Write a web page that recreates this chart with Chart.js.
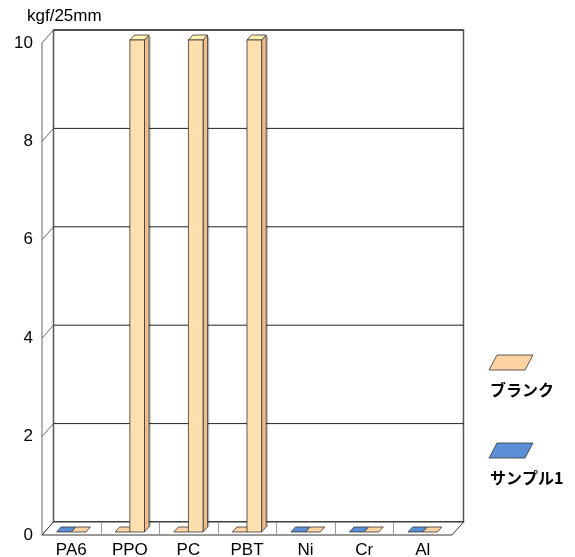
<!DOCTYPE html>
<html>
<head>
<meta charset="utf-8">
<script src="https://cdn.jsdelivr.net/npm/chart.js@4"></script>
<style>
  html, body { margin: 0; padding: 0; background: #fff; }
  #wrap { width: 575px; height: 557px; }
</style>
</head>
<body>
<div id="wrap"><canvas id="myChart" width="575" height="557"></canvas></div>
<script>
var categories = ["PA6", "PPO", "PC", "PBT", "Ni", "Cr", "Al"];
var sampleValues = [0, 0, 0, 0, 0, 0, 0];
var blankValues = [0, 10, 10, 10, 0, 0, 0];
var yTicks = [0, 2, 4, 6, 8, 10];
var unitLabel = "kgf/25mm";
var sampleLabel = "サンプル1";
var blankLabel = "ブランク";

var PEACH = { front: "#FEDFAD", side: "#F3BC8C", top: "#FFF1B4", flat: "#FDD3A4" };
var BLUE = { front: "#5A8FD6", side: "#3F6FB0", top: "#7FA9E2", flat: "#5A8ED6" };
// the flat sample bars under the tall ones come out peach in the original
var sampleColors = [BLUE, PEACH, PEACH, PEACH, BLUE, BLUE, BLUE];

var DX = 11.5, DY = -13;      // wall depth
var BX = 4.5, BY = -5;        // bar depth
var OY = -3;                  // bars sit a bit behind the front edge

function poly(ctx, pts, fill, stroke) {
    ctx.beginPath();
    ctx.moveTo(pts[0][0], pts[0][1]);
    for (var i = 1; i < pts.length; i++) ctx.lineTo(pts[i][0], pts[i][1]);
    ctx.closePath();
    if (fill) { ctx.fillStyle = fill; ctx.fill(); }
    if (stroke) { ctx.strokeStyle = stroke; ctx.stroke(); }
}

function drawBar(ctx, el, col) {
    var x0 = el.x - el.width / 2, x1 = x0 + el.width;
    var yTop = el.y + OY, yBot = el.base + OY;
    ctx.lineWidth = 0.8;
    if (yBot - yTop < 0.5) {
        poly(ctx, [[x0, yBot], [x1, yBot], [x1 + BX, yBot + BY], [x0 + BX, yBot + BY]], col.flat, "#333");
        return;
    }
    poly(ctx, [[x1, yBot], [x1 + BX, yBot + BY], [x1 + BX, yTop + BY], [x1, yTop]], col.side, "#333");
    poly(ctx, [[x0, yTop], [x0 + BX, yTop + BY], [x1 + BX, yTop + BY], [x1, yTop]], col.top, "#333");
    poly(ctx, [[x0, yBot], [x1, yBot], [x1, yTop], [x0, yTop]], col.front, "#333");
    ctx.strokeStyle = "rgba(0,0,0,0.25)";
    ctx.lineWidth = 1.5;
    ctx.beginPath();
    ctx.moveTo(x1 + BX + 1, yTop + BY + 2);
    ctx.lineTo(x1 + BX + 1, yBot + BY);
    ctx.stroke();
}

var box3d = {
    id: "box3d",
    beforeDatasetsDraw: function (chart) {
        var ctx = chart.ctx, a = chart.chartArea, ys = chart.scales.y, xs = chart.scales.x;
        ctx.save();
        // back wall
        ctx.lineWidth = 1.5;
        poly(ctx, [[a.left + DX, a.top + DY], [a.right + DX, a.top + DY], [a.right + DX, a.bottom + DY], [a.left + DX, a.bottom + DY]], "#fff", "#555");
        // grid on back wall + left wall diagonals
        yTicks.forEach(function (v) {
            var y = ys.getPixelForValue(v);
            ctx.lineWidth = 1;
            ctx.strokeStyle = "#222";
            ctx.beginPath();
            ctx.moveTo(a.left + DX, y + DY);
            ctx.lineTo(a.right + DX, y + DY);
            ctx.stroke();
            ctx.strokeStyle = "#666";
            ctx.beginPath();
            ctx.moveTo(a.left, y);
            ctx.lineTo(a.left + DX, y + DY);
            ctx.stroke();
        });
        // left wall front edge
        ctx.strokeStyle = "#666";
        ctx.beginPath();
        ctx.moveTo(a.left, ys.getPixelForValue(yTicks[yTicks.length - 1]));
        ctx.lineTo(a.left, a.bottom);
        ctx.stroke();
        // floor
        ctx.lineWidth = 1;
        poly(ctx, [[a.left, a.bottom], [a.right, a.bottom], [a.right + DX, a.bottom + DY], [a.left + DX, a.bottom + DY]], "#fff", "#333");
        var step = xs.getPixelForValue(1) - xs.getPixelForValue(0);
        ctx.strokeStyle = "#999";
        for (var i = 1; i < categories.length; i++) {
            var bx = Math.round(xs.getPixelForValue(i) - step / 2) + 0.5;
            ctx.beginPath();
            ctx.moveTo(bx, a.bottom + DY);
            ctx.lineTo(bx, a.bottom);
            ctx.stroke();
        }
        // bars, left to right
        var m0 = chart.getDatasetMeta(0), m1 = chart.getDatasetMeta(1);
        for (var j = 0; j < categories.length; j++) {
            drawBar(ctx, m0.data[j], sampleColors[j]);
            drawBar(ctx, m1.data[j], PEACH);
        }
        // unit label
        ctx.fillStyle = "#000";
        ctx.font = "17px 'Liberation Sans', Arial, sans-serif";
        ctx.textAlign = "left";
        ctx.textBaseline = "middle";
        ctx.fillText(unitLabel, 27, 16);
        // legend
        var items = [[blankLabel, PEACH, 355], [sampleLabel, BLUE, 443]];
        items.forEach(function (it) {
            var t = it[2];
            ctx.lineWidth = 0.8;
            poly(ctx, [[489, t + 15], [525, t + 15], [533, t], [497, t]], it[1].flat, "#333");
            ctx.fillStyle = "#000";
            ctx.font = "bold 16px 'Noto Sans CJK JP', sans-serif";
            ctx.fillText(it[0], 490, t + 35);
        });
        ctx.restore();
    }
};

var ctx = document.getElementById("myChart").getContext("2d");
var chart = new Chart(ctx, {
    type: "bar",
    data: {
        labels: categories,
        datasets: [
            { label: sampleLabel, data: sampleValues, backgroundColor: "rgba(0,0,0,0)" },
            { label: blankLabel, data: blankValues, backgroundColor: "rgba(0,0,0,0)" }
        ]
    },
    options: {
        responsive: false,
        animation: false,
        layout: { padding: { top: 43, right: 123, left: 0, bottom: 0 } },
        datasets: { bar: { categoryPercentage: 0.5, barPercentage: 1.0 } },
        scales: {
            x: {
                grid: { display: false, drawTicks: false },
                border: { display: false },
                ticks: { color: "#000", padding: 5, font: { family: "'Liberation Sans', Arial", size: 17 } },
                afterFit: function (scale) { scale.height = 22; }
            },
            y: {
                min: 0,
                max: 10,
                grid: { display: false, drawTicks: false },
                border: { display: false },
                ticks: { stepSize: 2, color: "#000", padding: 9, font: { family: "'Liberation Sans', Arial", size: 17 } },
                afterFit: function (scale) { scale.width = 42; }
            }
        },
        plugins: {
            legend: { display: false },
            tooltip: { enabled: false }
        }
    },
    plugins: [box3d]
});
</script>
</body>
</html>
